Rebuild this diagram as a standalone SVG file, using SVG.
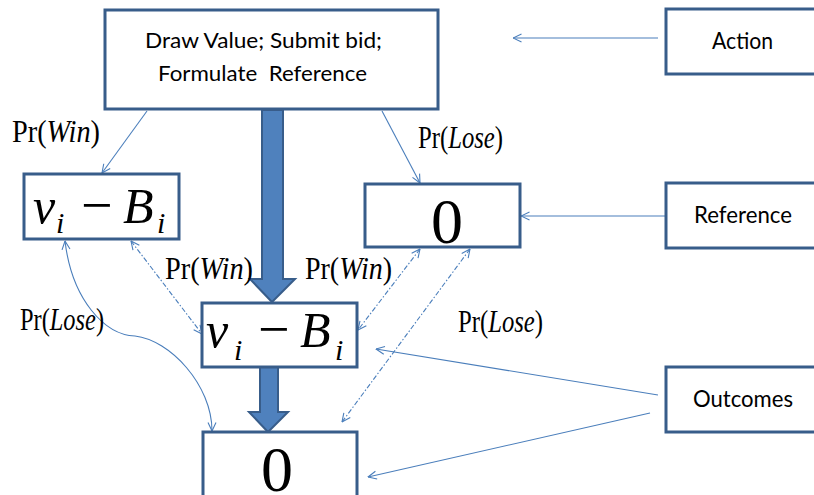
<svg xmlns="http://www.w3.org/2000/svg" width="814" height="495" viewBox="0 0 814 495">
<style>
.box{fill:#fff;stroke:#385D8A;stroke-width:3}
.ln{fill:none;stroke:#4A7EBB;stroke-width:1.1}
.dd{fill:none;stroke:#4A7EBB;stroke-width:1.1;stroke-dasharray:5,2,1.5,2}
.thick{fill:#4F81BD;stroke:#385D8A;stroke-width:2}
.sans{font-family:Lato,"Liberation Sans",sans-serif;fill:#000}
.ser{font-family:"Liberation Serif","Times New Roman",serif;fill:#000}
.it{font-style:italic}
.pr{font-size:32px}
.m{font-size:50px}
.mi{font-size:56px}
.s{font-size:30px;font-style:italic}
</style>
<defs>
<marker id="arr" viewBox="0 0 10 10" refX="9.5" refY="5" markerWidth="10" markerHeight="10" markerUnits="userSpaceOnUse" orient="auto-start-reverse">
<path d="M1,1 L9.5,5 L1,9" fill="none" stroke="#4A7EBB" stroke-width="1.1"/>
</marker>
</defs>
<g id="connectors">
<path class="ln" d="M147,111 L102,173" marker-end="url(#arr)"/>
<path class="ln" d="M382,111 L420,183" marker-end="url(#arr)"/>
<path class="ln" d="M658,38 L513,38" marker-end="url(#arr)"/>
<path class="ln" d="M666,216 L521,216" marker-end="url(#arr)"/>
<path class="ln" d="M658,395 L376,349" marker-end="url(#arr)"/>
<path class="ln" d="M650,413 L368,477" marker-end="url(#arr)"/>
<path class="dd" d="M131,241 L202,334" marker-start="url(#arr)" marker-end="url(#arr)"/>
<path class="dd" d="M420,249 L358,330" marker-start="url(#arr)" marker-end="url(#arr)"/>
<path class="dd" d="M470,249 L342,422" marker-start="url(#arr)" marker-end="url(#arr)"/>
<path class="ln" d="M65,241 C72,300 105,335 135,336 C170,340 212,385 212,431" marker-start="url(#arr)" marker-end="url(#arr)"/>
<path class="thick" d="M262,110 L283,110 L283,279 L295,279 L272,302 L250,279 L262,279 Z"/>
<path class="thick" d="M260,367 L278,367 L278,412 L288,412 L268,432 L249,412 L260,412 Z"/>
</g>
<g id="action-node">
<rect class="box" x="105" y="10" width="333" height="99"/>
<text class="sans" x="145" y="48" font-size="22" textLength="237" lengthAdjust="spacingAndGlyphs">Draw Value; Submit bid;</text>
<text class="sans" x="158" y="81" font-size="22" textLength="209" lengthAdjust="spacingAndGlyphs" xml:space="preserve">Formulate  Reference</text>
</g>
<g id="win-ref-node">
<rect class="box" x="24" y="174" width="155" height="65"/>
<text class="ser it m" x="33" y="223">v</text>
<text class="ser s" x="56" y="233">i</text>
<text class="ser mi" x="81" y="224">−</text>
<text class="ser it m" x="123" y="223">B</text>
<text class="ser s" x="157" y="233">i</text>
</g>
<g id="lose-ref-node">
<rect class="box" x="365" y="184" width="155" height="63"/>
<text class="ser" x="447" y="243" font-size="64" text-anchor="middle">0</text>
</g>
<g id="win-outcome-node">
<rect class="box" x="202" y="303" width="155" height="64"/>
<text class="ser it m" x="206" y="347">v</text>
<text class="ser s" x="234" y="360">i</text>
<text class="ser mi" x="258" y="348">−</text>
<text class="ser it m" x="300" y="347">B</text>
<text class="ser s" x="335" y="360">i</text>
</g>
<g id="lose-outcome-node">
<rect class="box" x="203" y="432" width="154" height="75"/>
<text class="ser" x="277" y="491" font-size="64" text-anchor="middle">0</text>
</g>
<g id="action-label">
<rect class="box" x="666" y="9" width="160" height="65"/>
<text class="sans" x="712" y="49" font-size="23" textLength="61" lengthAdjust="spacingAndGlyphs">Action</text>
</g>
<g id="reference-label">
<rect class="box" x="666" y="183" width="160" height="65"/>
<text class="sans" x="694" y="223" font-size="23" textLength="98" lengthAdjust="spacingAndGlyphs">Reference</text>
</g>
<g id="outcomes-label">
<rect class="box" x="666" y="367" width="160" height="65"/>
<text class="sans" x="693" y="407" font-size="23" textLength="100" lengthAdjust="spacingAndGlyphs">Outcomes</text>
</g>
<g id="labels">
<text class="ser pr" x="12" y="142" textLength="88" lengthAdjust="spacingAndGlyphs">Pr(<tspan class="it">Win</tspan>)</text>
<text class="ser pr" x="418" y="148" textLength="85" lengthAdjust="spacingAndGlyphs">Pr(<tspan class="it">Lose</tspan>)</text>
<text class="ser pr" x="165" y="279" textLength="88" lengthAdjust="spacingAndGlyphs">Pr(<tspan class="it">Win</tspan>)</text>
<text class="ser pr" x="305" y="279" textLength="87" lengthAdjust="spacingAndGlyphs">Pr(<tspan class="it">Win</tspan>)</text>
<text class="ser pr" x="458" y="332" textLength="85" lengthAdjust="spacingAndGlyphs">Pr(<tspan class="it">Lose</tspan>)</text>
<text class="ser pr" x="20" y="330" textLength="84" lengthAdjust="spacingAndGlyphs">Pr(<tspan class="it">Lose</tspan>)</text>
</g>
</svg>
